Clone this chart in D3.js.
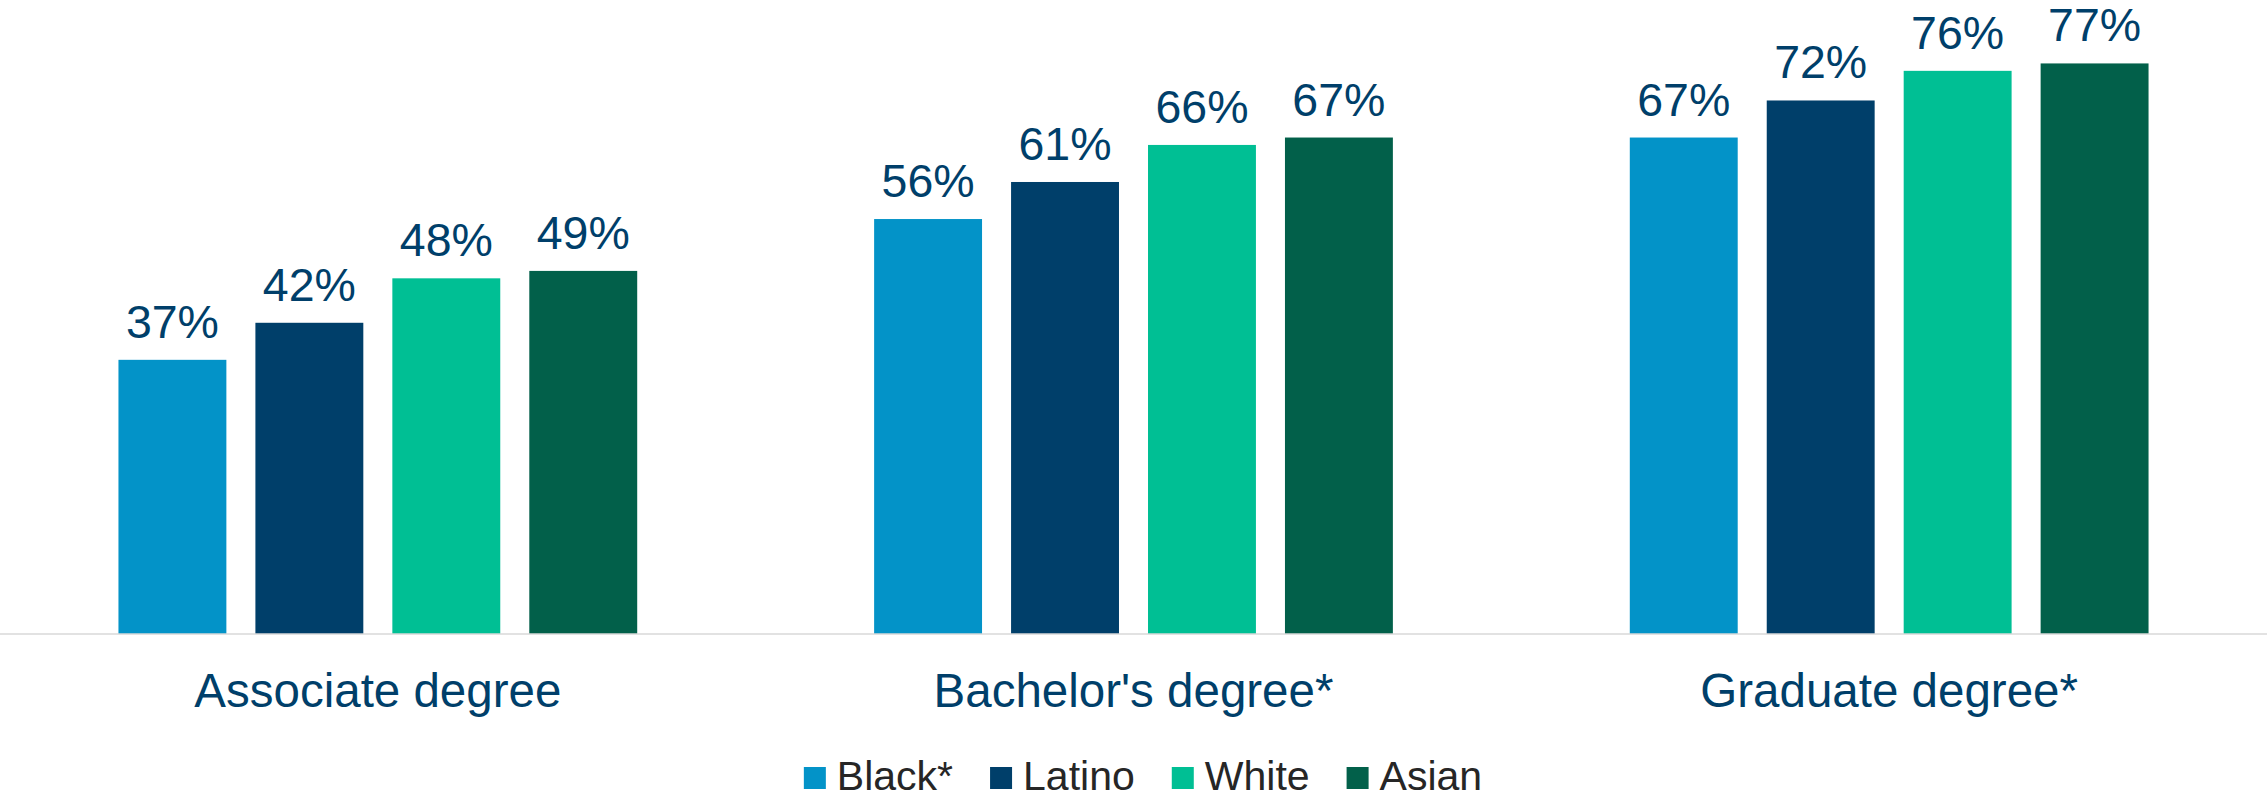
<!DOCTYPE html>
<html>
<head>
<meta charset="utf-8">
<script src="https://cdn.jsdelivr.net/npm/d3@7"></script>
<style>
  html, body { margin: 0; padding: 0; background: #ffffff; }
  svg { display: block; font-family: "Liberation Sans", Arial, sans-serif; }
</style>
</head>
<body>
<svg id="chart" width="2267" height="800"></svg>
<script>
// Degree levels along the x axis
const categories = ["Associate degree", "Bachelor's degree*", "Graduate degree*"];
// Groups shown within each degree level
const seriesNames = ["Black*", "Latino", "White", "Asian"];
const seriesColors = ["#0393c8", "#003f6a", "#00bf94", "#02604a"];
// Percentages, one array per group, in category order
const blackValues  = [37, 56, 67];
const latinoValues = [42, 61, 72];
const whiteValues  = [48, 66, 76];
const asianValues  = [49, 67, 77];

const seriesValues = [blackValues, latinoValues, whiteValues, asianValues];

const W = 2267, H = 800;
const baseY = 634;
const navy = "#003f6a";

const svg = d3.select("#chart");

const x0 = d3.scaleBand().domain(categories).range([0, W]).padding(0);
const x1 = d3.scaleBand().domain(seriesNames).range([0, x0.bandwidth()])
  .paddingInner(0.212).paddingOuter(0.865);
const y = d3.scaleLinear().domain([0, 100]).range([baseY, baseY - 741]);

const rows = categories.map((c, ci) => ({
  category: c,
  bars: seriesNames.map((s, si) => ({ series: s, color: seriesColors[si], value: seriesValues[si][ci] }))
}));

const groups = svg.selectAll("g.group").data(rows).join("g")
  .attr("class", "group")
  .attr("transform", d => `translate(${x0(d.category)},0)`);

groups.selectAll("rect").data(d => d.bars).join("rect")
  .attr("x", d => x1(d.series))
  .attr("width", x1.bandwidth())
  .attr("y", d => y(d.value))
  .attr("height", d => y(0) - y(d.value))
  .attr("fill", d => d.color);

groups.selectAll("text.val").data(d => d.bars).join("text")
  .attr("class", "val")
  .attr("x", d => x1(d.series) + x1.bandwidth() / 2)
  .attr("y", d => y(d.value) - 22)
  .attr("text-anchor", "middle")
  .attr("font-size", 46.5)
  .attr("fill", navy)
  .text(d => d.value + "%");

// Baseline axis with category labels
const xAxis = d3.axisBottom(x0).tickSize(0).tickPadding(0);
const axisG = svg.append("g").attr("transform", `translate(0,${baseY})`).call(xAxis);
axisG.select(".domain").attr("stroke", "#d9d9d9").attr("stroke-width", 1.6)
  .attr("d", `M0,0H${W}`);
axisG.selectAll(".tick text")
  .attr("y", 72.6).attr("dy", null)
  .attr("font-size", 47.5)
  .attr("font-family", "Liberation Sans, Arial, sans-serif")
  .attr("fill", navy);

// Legend
const legend = svg.append("g");
const items = legend.selectAll("g").data(seriesNames).join("g");
items.append("rect").attr("width", 22).attr("height", 22).attr("y", 767)
  .attr("fill", (d, i) => seriesColors[i]);
items.append("text").attr("x", 33).attr("y", 790)
  .attr("font-size", 41).attr("fill", "#262626").text(d => d);
const widths = [];
items.each(function () {
  const tw = d3.select(this).select("text").node().getComputedTextLength();
  widths.push(33 + tw);
});
const gap = 37;
const total = d3.sum(widths) + gap * (widths.length - 1);
let cx = 1143 - total / 2;
items.attr("transform", (d, i) => {
  const t = `translate(${cx},0)`;
  cx += widths[i] + gap;
  return t;
});
</script>
</body>
</html>
